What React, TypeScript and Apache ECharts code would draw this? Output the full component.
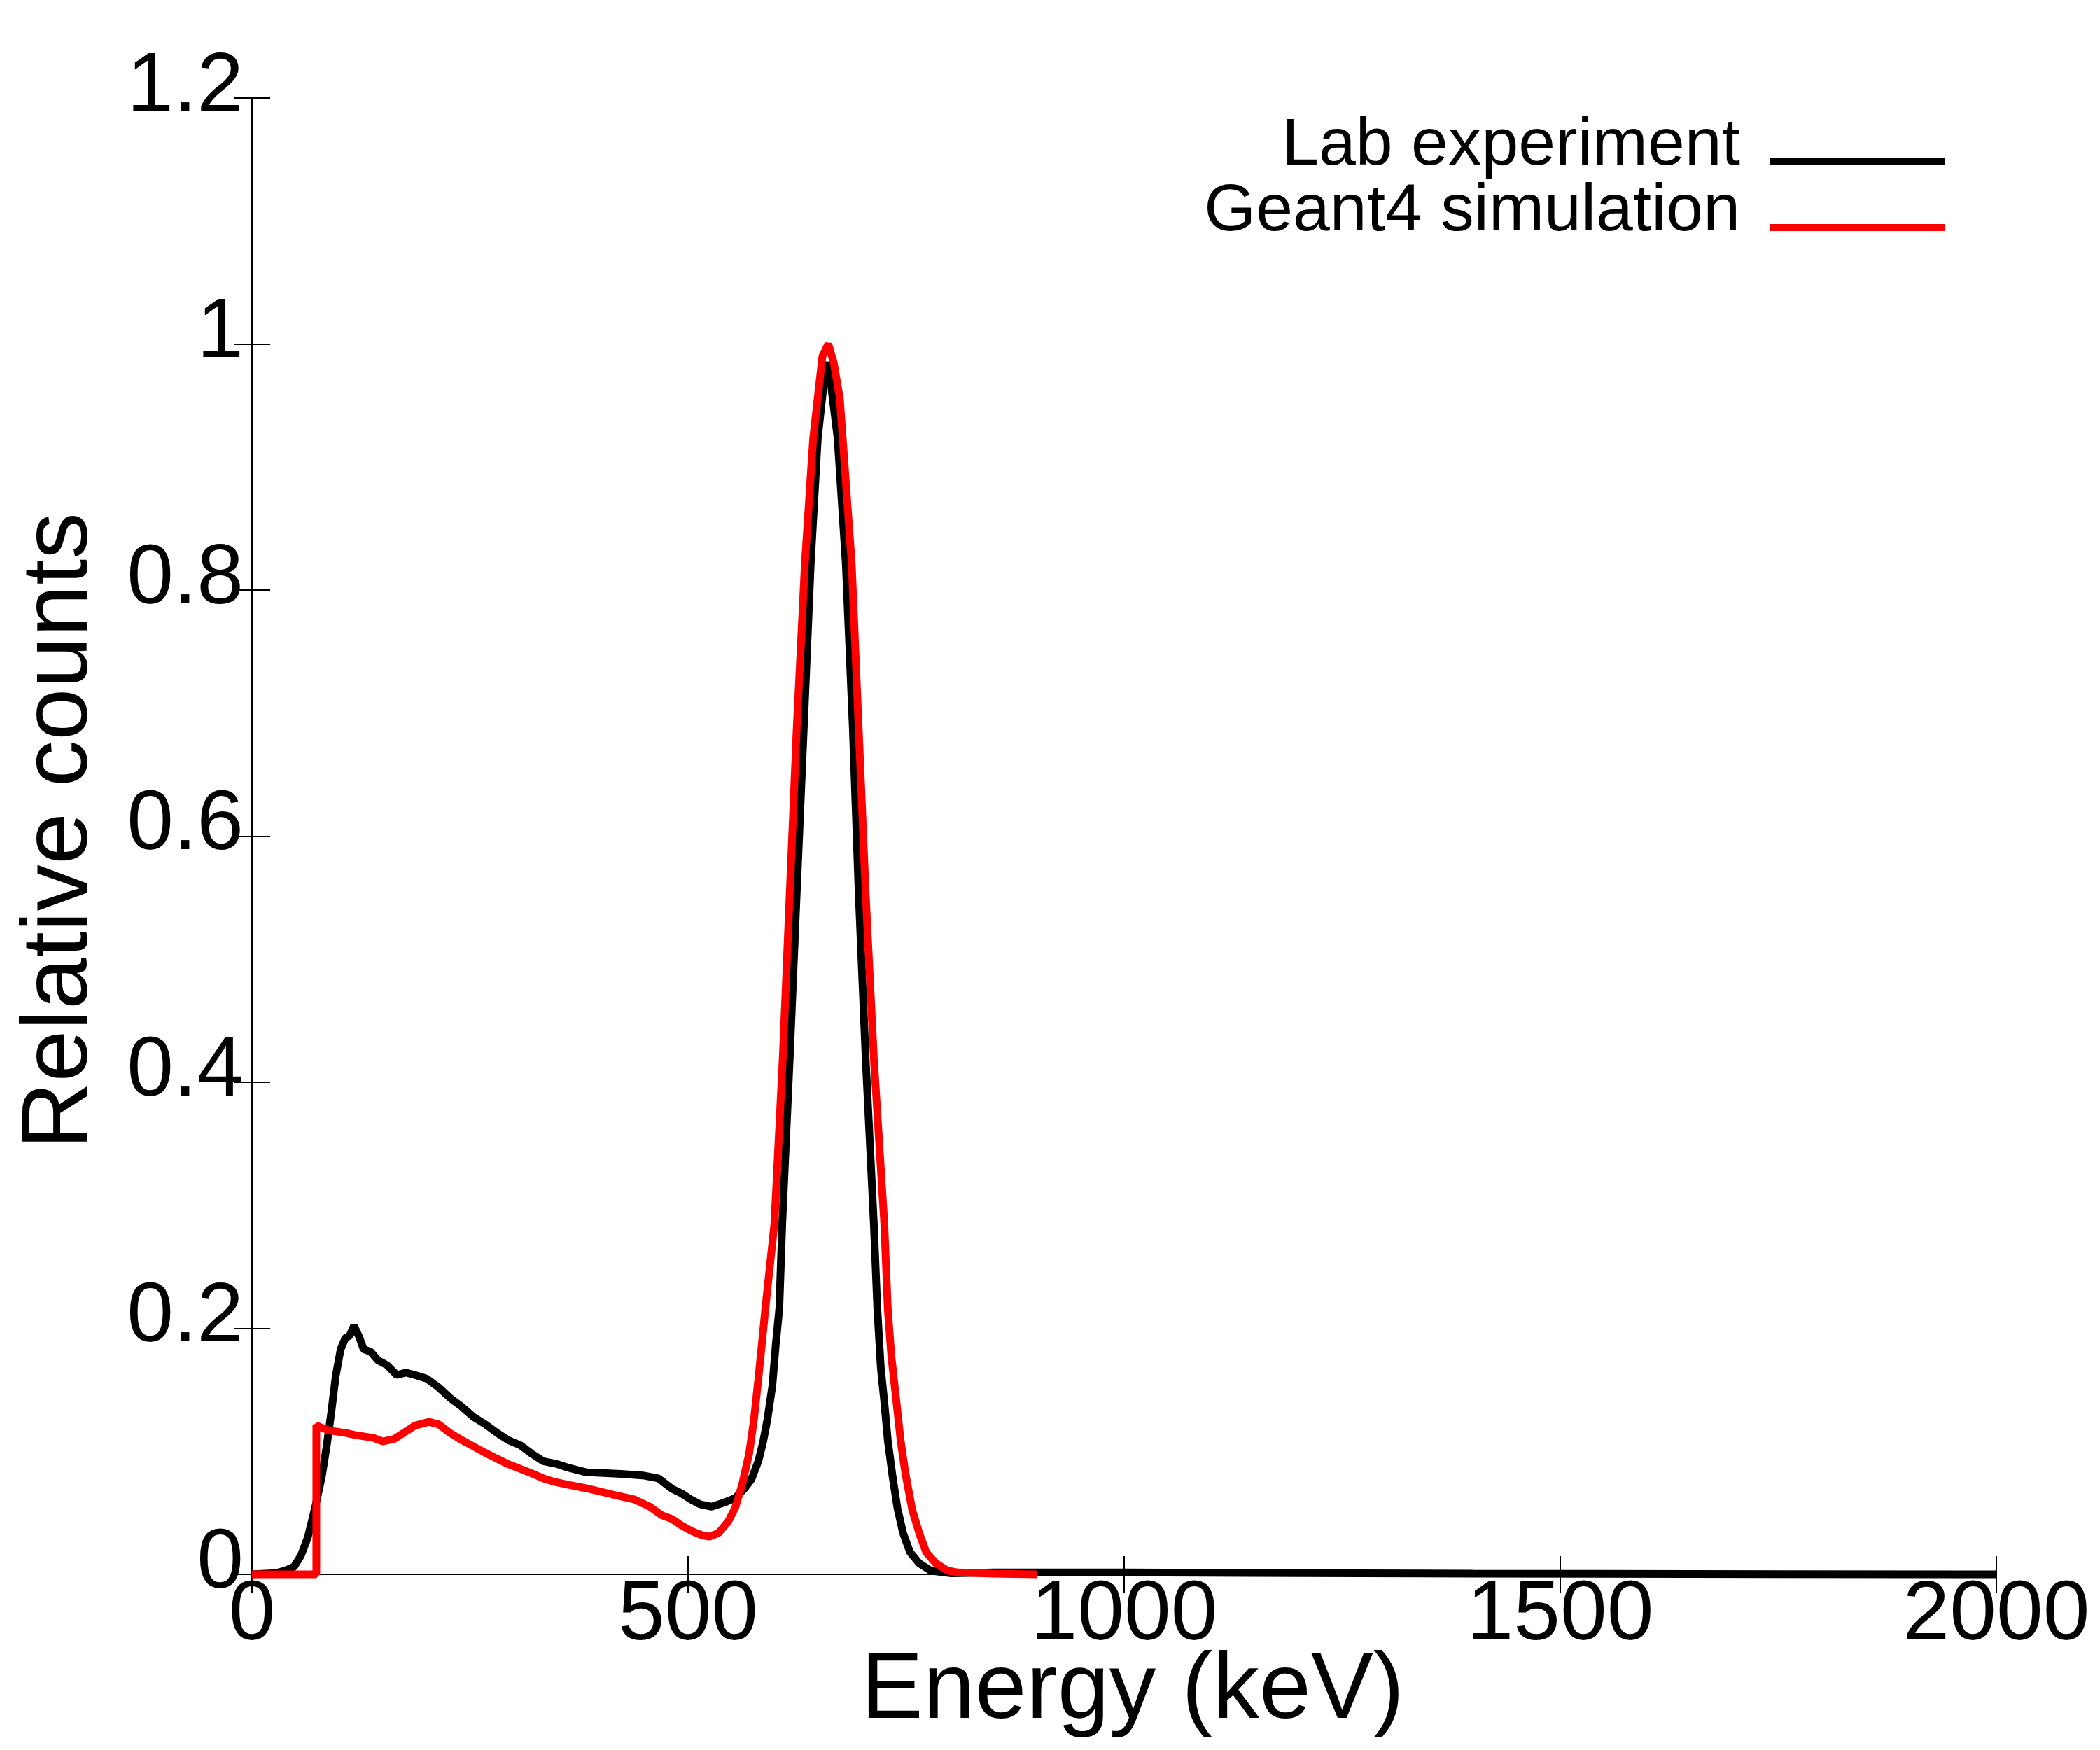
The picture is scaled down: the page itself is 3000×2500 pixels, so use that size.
import React, { useEffect, useRef } from "react";
import * as echarts from "echarts";

// Lab experiment (black histogram)
const labEnergy = [
  0, 27, 37.5, 48, 56, 64, 72, 80, 85.6, 91, 96, 101.7, 107, 112, 117, 123, 128, 136, 144.5, 155,
  166, 176.6, 187, 200.6, 214, 227, 241, 254, 267.5, 281, 294, 307.6, 321, 334, 348, 361, 383, 423,
  448, 466, 481.5, 492, 503, 513.6, 527, 540, 554, 564.5, 572.5, 580.6, 586, 591, 596.6, 600.6,
  604.6, 608, 616.6, 624.6, 632.7, 640.7, 648.7, 656.8, 660.8, 666, 671.5, 680.8, 688.9, 695.6,
  703.6, 713, 717, 721, 725, 729, 734.6, 740, 746.5, 754.5, 765, 778, 802, 850, 1000, 1200, 1400,
  2000,
];
const labCounts = [
  0, 0.001, 0.003, 0.006, 0.015, 0.03, 0.053, 0.079, 0.104, 0.132, 0.161, 0.183, 0.192, 0.194,
  0.202, 0.193, 0.183, 0.181, 0.174, 0.17, 0.162, 0.164, 0.162, 0.159, 0.152, 0.1435, 0.136, 0.128,
  0.122, 0.115, 0.109, 0.105, 0.098, 0.092, 0.09, 0.087, 0.083, 0.0817, 0.0804, 0.078, 0.0696,
  0.066, 0.061, 0.057, 0.055, 0.058, 0.062, 0.0696, 0.077, 0.092, 0.1075, 0.126, 0.153, 0.187,
  0.216, 0.285, 0.42, 0.554, 0.688, 0.822, 0.923, 0.976, 0.985, 0.955, 0.923, 0.822, 0.688, 0.554,
  0.42, 0.285, 0.216, 0.168, 0.14, 0.109, 0.079, 0.054, 0.0336, 0.018, 0.009, 0.003, 0.0008,
  0.0015, 0.0015, 0.001, 0.0005, 0,
];

// Geant4 simulation (red histogram)
const simEnergy = [
  0, 73.8, 73.8, 88, 107, 120, 139, 150, 163, 174, 187, 203, 214, 227, 241, 254, 267, 281, 294,
  308, 321, 334, 348, 361, 383, 413, 438, 456, 470, 481.5, 492, 503, 516.5, 524.5, 535, 546, 554,
  562, 570, 575.4, 580.6, 586, 588.6, 599, 608.6, 616.6, 624.6, 634, 643.4, 654, 660.8, 667, 674,
  687.6, 695.6, 703.6, 713, 725, 729, 733, 738.4, 743.7, 749, 757, 765, 773, 784, 797.5, 810, 850,
  900,
];
const simCounts = [
  0, 0, 0.121, 0.117, 0.115, 0.113, 0.111, 0.108, 0.11, 0.115, 0.121, 0.124, 0.122, 0.115, 0.109,
  0.104, 0.099, 0.094, 0.0895, 0.0857, 0.082, 0.078, 0.075, 0.073, 0.07, 0.065, 0.061, 0.055,
  0.048, 0.045, 0.04, 0.0355, 0.0317, 0.0307, 0.0336, 0.043, 0.054, 0.073, 0.098, 0.125, 0.159,
  0.197, 0.216, 0.285, 0.42, 0.554, 0.688, 0.822, 0.923, 0.99, 1.0, 0.985, 0.956, 0.822, 0.688,
  0.554, 0.42, 0.285, 0.216, 0.178, 0.1435, 0.109, 0.083, 0.0525, 0.0336, 0.018, 0.009, 0.003,
  0.0015, 0.0005, 0,
];

const seriesNames = ["Lab experiment", "Geant4 simulation"];
const seriesColors = ["#000000", "#ff0000"];
const xTitle = "Energy (keV)";
const yTitle = "Relative counts";

const FONT = '"Liberation Sans", Arial, Helvetica, sans-serif';

export default function App() {
  const ref = useRef<HTMLDivElement>(null);

  useEffect(() => {
    if (!ref.current) return;
    const chart = echarts.init(ref.current, undefined, { renderer: "svg" });

    const labData = labEnergy.map((e, i) => [e, labCounts[i]]);
    const simData = simEnergy.map((e, i) => [e, simCounts[i]]);

    const frameLine = { show: true, lineStyle: { color: "#000", width: 2 } };
    const tick = { show: true, inside: true, length: 26, lineStyle: { color: "#000", width: 2 } };

    const legendText = (text: string, y: number) => ({
      type: "text",
      x: 2486,
      y,
      style: {
        text,
        fill: "#000",
        fontSize: 95,
        fontFamily: FONT,
        font: `95px ${FONT}`,
        lineHeight: 76,
        align: "right",
        textAlign: "right",
        verticalAlign: "middle",
        textVerticalAlign: "middle",
      },
    });

    chart.setOption({
      animation: false,
      backgroundColor: "#ffffff",
      grid: { left: 360, right: 148, top: 140, bottom: 251, containLabel: false },
      xAxis: [
        {
          type: "value",
          min: 0,
          max: 2000,
          interval: 500,
          position: "bottom",
          axisLine: frameLine,
          axisTick: tick,
          splitLine: { show: false },
          axisLabel: {
            color: "#000",
            fontSize: 120,
            lineHeight: 90,
            fontFamily: FONT,
            margin: 6,
            formatter: (v: number) => String(v),
          },
        },
        {
          type: "value",
          min: 0,
          max: 2000,
          interval: 500,
          position: "top",
          axisLine: frameLine,
          axisTick: tick,
          splitLine: { show: false },
          axisLabel: { show: false },
        },
      ],
      yAxis: [
        {
          type: "value",
          min: 0,
          max: 1.2,
          interval: 0.2,
          position: "left",
          axisLine: frameLine,
          axisTick: tick,
          splitLine: { show: false },
          axisLabel: {
            color: "#000",
            fontSize: 120,
            lineHeight: 47,
            verticalAlign: "bottom",
            fontFamily: FONT,
            margin: 12,
            formatter: (v: number) => String(Math.round(v * 10) / 10),
          },
        },
        {
          type: "value",
          min: 0,
          max: 1.2,
          interval: 0.2,
          position: "right",
          axisLine: frameLine,
          axisTick: tick,
          splitLine: { show: false },
          axisLabel: { show: false },
        },
      ],
      series: [
        {
          name: seriesNames[0],
          type: "line",
          data: labData,
          xAxisIndex: 0,
          yAxisIndex: 0,
          showSymbol: false,
          clip: false,
          lineStyle: { color: seriesColors[0], width: 11 },
          z: 3,
        },
        {
          name: seriesNames[1],
          type: "line",
          data: simData,
          xAxisIndex: 0,
          yAxisIndex: 0,
          showSymbol: false,
          clip: false,
          lineStyle: { color: seriesColors[1], width: 11 },
          z: 4,
        },
      ],
      graphic: [
        {
          type: "text",
          x: 1618,
          y: 2408,
          style: {
            text: xTitle,
            fill: "#000",
            fontSize: 133,
            fontFamily: FONT,
            font: `133px ${FONT}`,
            lineHeight: 100,
            align: "center",
            textAlign: "center",
            verticalAlign: "middle",
            textVerticalAlign: "middle",
          },
        },
        {
          type: "text",
          x: 78,
          y: 1187,
          rotation: Math.PI / 2,
          style: {
            text: yTitle,
            fill: "#000",
            fontSize: 133,
            fontFamily: FONT,
            font: `133px ${FONT}`,
            lineHeight: 100,
            align: "center",
            textAlign: "center",
            verticalAlign: "middle",
            textVerticalAlign: "middle",
          },
        },
        legendText(seriesNames[0], 202),
        legendText(seriesNames[1], 296),
        {
          type: "line",
          shape: { x1: 2528, y1: 230, x2: 2778, y2: 230 },
          style: { stroke: seriesColors[0], lineWidth: 10 },
        },
        {
          type: "line",
          shape: { x1: 2528, y1: 325, x2: 2778, y2: 325 },
          style: { stroke: seriesColors[1], lineWidth: 10 },
        },
      ],
    });

    return () => chart.dispose();
  }, []);

  return (
    <div
      ref={ref}
      style={{ position: "fixed", left: 0, top: 0, width: 3000, height: 2500, background: "#fff" }}
    />
  );
}
